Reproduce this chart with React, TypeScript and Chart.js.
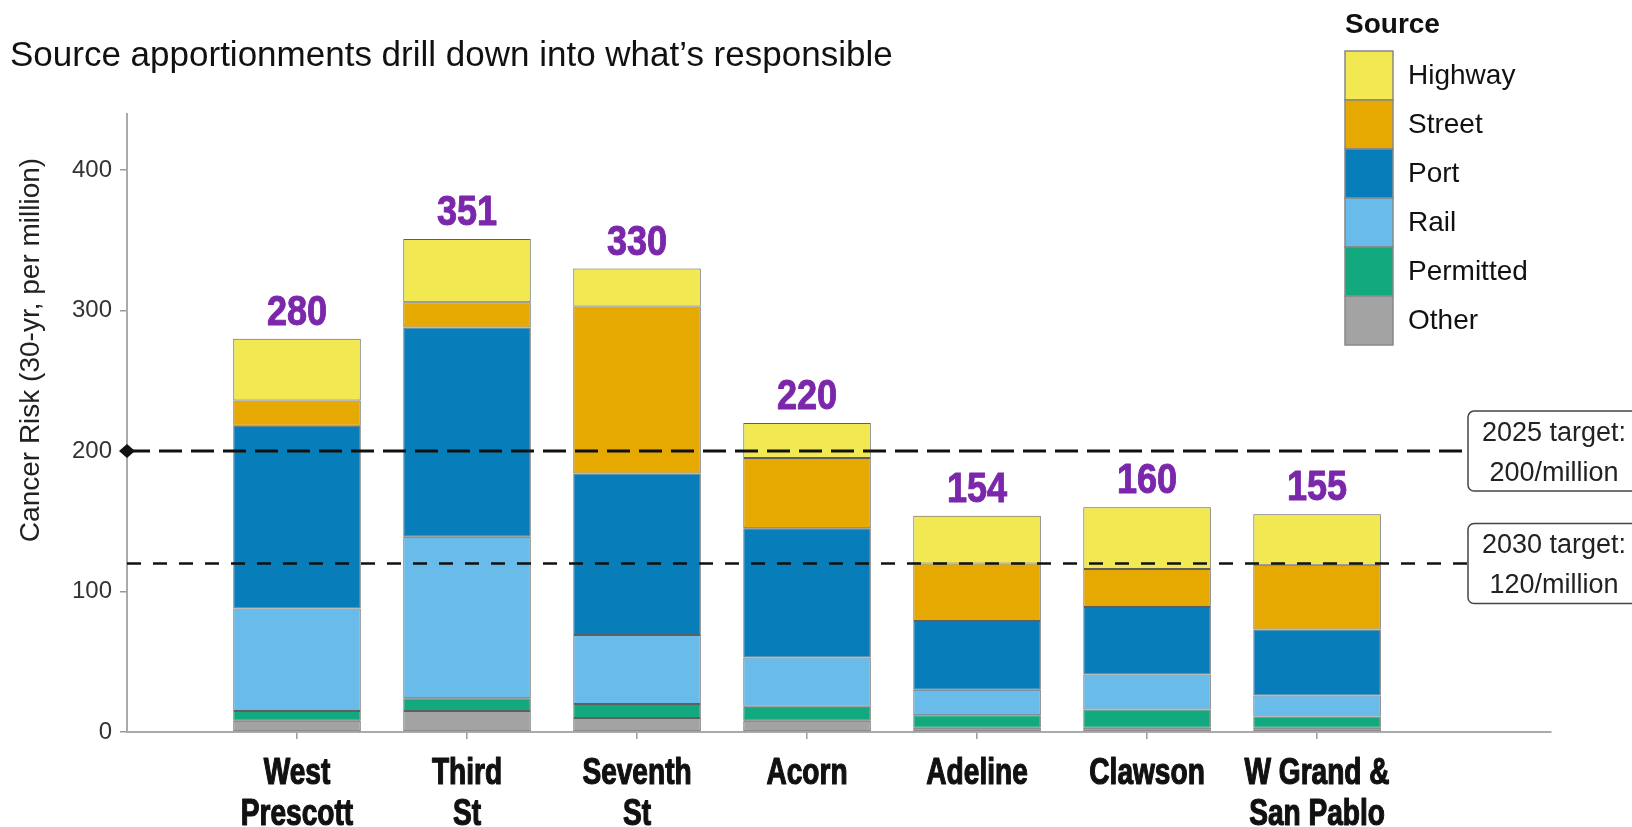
import React, { useEffect, useRef } from "react";
import { Chart, registerables } from "chart.js";

Chart.register(...registerables);

const categories: string[][] = [
  ["West", "Prescott"],
  ["Third", "St"],
  ["Seventh", "St"],
  ["Acorn"],
  ["Adeline"],
  ["Clawson"],
  ["W Grand &", "San Pablo"],
];
const other = [8, 15, 10, 8, 3, 3, 3];
const permitted = [7, 9, 10, 10, 9, 13, 8];
const rail = [73, 115, 49, 35, 18, 25, 15];
const port = [130, 149, 115, 92, 49, 48, 47];
const street = [18, 18, 119, 50, 41, 27, 46];
const highway = [44, 45, 27, 25, 34, 44, 36];
const totals = [280, 351, 330, 220, 154, 160, 155];
const yTicks = [0, 100, 200, 300, 400];
const targetValues = [200, 120];
const targetLabels = [
  ["2025 target:", "200/million"],
  ["2030 target:", "120/million"],
];

const seriesNames = ["Other", "Permitted", "Rail", "Port", "Street", "Highway"];
const seriesData = [other, permitted, rail, port, street, highway];
const seriesColors = ["#A3A3A3", "#12A97E", "#69BBEA", "#077DB9", "#E6A902", "#F1E852"];

const SANS = '"Liberation Sans", Arial, Helvetica, sans-serif';

function condensedText(ctx: CanvasRenderingContext2D, text: string, cx: number, baseline: number, sx: number, stroke: number) {
  ctx.save();
  ctx.translate(cx, baseline);
  ctx.scale(sx, 1);
  ctx.textAlign = "center";
  ctx.textBaseline = "alphabetic";
  ctx.fillText(text, 0, 0);
  if (stroke > 0) {
    ctx.lineWidth = stroke;
    ctx.lineJoin = "round";
    ctx.strokeStyle = ctx.fillStyle as string;
    ctx.strokeText(text, 0, 0);
  }
  ctx.restore();
}

const extras = {
  id: "extras",
  afterDatasetsDraw(chart: any) {
    const { ctx, chartArea, scales } = chart;
    const x = scales.x;
    const y = scales.y;
    const boxLeft = chartArea.right - 83;

    targetValues.forEach((v, i) => {
      const py = y.getPixelForValue(v);
      ctx.save();
      ctx.strokeStyle = "#111";
      if (i === 0) {
        ctx.lineWidth = 3;
        ctx.setLineDash([23, 9]);
      } else {
        ctx.lineWidth = 2.5;
        ctx.setLineDash([14, 12]);
      }
      ctx.beginPath();
      ctx.moveTo(chartArea.left, py);
      ctx.lineTo(boxLeft, py);
      ctx.stroke();
      ctx.restore();
      if (i === 0) {
        ctx.save();
        ctx.fillStyle = "#111";
        ctx.beginPath();
        ctx.moveTo(chartArea.left - 8, py);
        ctx.lineTo(chartArea.left, py - 7);
        ctx.lineTo(chartArea.left + 8, py);
        ctx.lineTo(chartArea.left, py + 7);
        ctx.closePath();
        ctx.fill();
        ctx.restore();
      }
      const bw = 172;
      const bh = 80;
      const top = py - 40;
      ctx.save();
      ctx.fillStyle = "#fff";
      ctx.strokeStyle = "#444";
      ctx.lineWidth = 1.5;
      ctx.beginPath();
      (ctx as any).roundRect(boxLeft, top, bw, bh, 6);
      ctx.fill();
      ctx.stroke();
      ctx.fillStyle = "#222";
      ctx.font = `27px ${SANS}`;
      ctx.textAlign = "center";
      ctx.textBaseline = "middle";
      const cx = boxLeft + 86;
      ctx.fillText(targetLabels[i][0], cx, py - 18);
      ctx.fillText(targetLabels[i][1], cx, py + 22);
      ctx.restore();
    });

    ctx.save();
    ctx.fillStyle = "#7B27AB";
    ctx.font = `bold 43px ${SANS}`;
    totals.forEach((t, i) => {
      condensedText(ctx, String(t), x.getPixelForValue(i + 1), y.getPixelForValue(t) - 14, 0.84, 1);
    });
    ctx.restore();

    ctx.save();
    ctx.fillStyle = "#111";
    ctx.font = `bold 36px ${SANS}`;
    categories.forEach((lines, i) => {
      const cx = x.getPixelForValue(i + 1);
      lines.forEach((ln, k) => {
        condensedText(ctx, ln, cx, chartArea.bottom + 52 + k * 41, 0.78, 1.2);
      });
    });
    ctx.restore();
  },
  afterDraw(chart: any) {
    const { ctx } = chart;
    ctx.save();
    ctx.fillStyle = "#111";
    ctx.font = `35px ${SANS}`;
    ctx.textAlign = "left";
    ctx.textBaseline = "alphabetic";
    ctx.fillText("Source apportionments drill down into what\u2019s responsible", 10, 66);

    ctx.save();
    ctx.translate(31, 350);
    ctx.rotate(-Math.PI / 2);
    ctx.textAlign = "center";
    ctx.textBaseline = "middle";
    ctx.font = `28px ${SANS}`;
    ctx.fillStyle = "#222";
    ctx.fillText("Cancer Risk (30-yr, per million)", 0, 0);
    ctx.restore();

    const lx = 1345;
    const ly = 51;
    const rowH = 49;
    ctx.fillStyle = "#111";
    ctx.font = `bold 28px ${SANS}`;
    ctx.textAlign = "left";
    ctx.textBaseline = "alphabetic";
    ctx.fillText("Source", lx, 33);
    ctx.font = `28px ${SANS}`;
    ctx.textBaseline = "middle";
    const order = [5, 4, 3, 2, 1, 0];
    order.forEach((si, r) => {
      const top = ly + r * rowH;
      ctx.fillStyle = seriesColors[si];
      ctx.fillRect(lx, top, 48, rowH);
      ctx.strokeStyle = "#888";
      ctx.lineWidth = 1.5;
      ctx.strokeRect(lx, top, 48, rowH);
      ctx.fillStyle = "#111";
      ctx.fillText(seriesNames[si], 1408, top + rowH / 2 + 1);
    });
    ctx.restore();
  },
};

export default function App() {
  const canvasRef = useRef<HTMLCanvasElement | null>(null);

  useEffect(() => {
    document.body.style.margin = "0";
    const canvas = canvasRef.current;
    if (!canvas) return;
    const chart = new Chart(canvas, {
      type: "bar",
      data: {
        datasets: seriesData.map((arr, si) => ({
          label: seriesNames[si],
          data: arr.map((v, i) => ({ x: i + 1, y: v })),
          backgroundColor: seriesColors[si],
          borderColor: "#5f5f5f",
          borderWidth: 1,
          borderSkipped: false,
          barPercentage: 1,
          categoryPercentage: 0.75,
        })),
      },
      options: {
        animation: false,
        responsive: false,
        devicePixelRatio: 1,
        layout: { padding: { top: 114, right: 81, left: 0, bottom: 0 } },
        plugins: {
          legend: { display: false },
          title: { display: false },
          tooltip: { enabled: false },
        },
        scales: {
          x: {
            type: "linear",
            stacked: true,
            offset: false,
            min: 0,
            max: 8.376,
            afterBuildTicks: (scale: any) => {
              scale.ticks = categories.map((_, i) => ({ value: i + 1 }));
            },
            afterFit: (scale: any) => {
              scale.height = 95;
            },
            ticks: { display: false },
            grid: {
              display: true,
              offset: false,
              drawOnChartArea: false,
              drawTicks: true,
              tickLength: 7,
              color: "#999",
              lineWidth: 1.5,
            },
            border: { display: true, color: "#aaa", width: 2 },
          },
          y: {
            type: "linear",
            stacked: true,
            min: 0,
            max: 440,
            afterBuildTicks: (scale: any) => {
              scale.ticks = yTicks.map((v) => ({ value: v }));
            },
            afterFit: (scale: any) => {
              scale.width = 127;
            },
            ticks: {
              padding: 8,
              color: "#333",
              font: { family: SANS, size: 24 },
            },
            grid: {
              display: true,
              drawOnChartArea: false,
              drawTicks: true,
              tickLength: 7,
              color: "#999",
              lineWidth: 1.5,
            },
            border: { display: true, color: "#aaa", width: 2 },
          },
        },
      } as any,
      plugins: [extras],
    });
    return () => chart.destroy();
  }, []);

  return (
    <div style={{ position: "absolute", left: 0, top: 0, width: 1632, height: 827, background: "#fff" }}>
      <canvas ref={canvasRef} width={1632} height={827} style={{ width: 1632, height: 827, display: "block" }} />
    </div>
  );
}
